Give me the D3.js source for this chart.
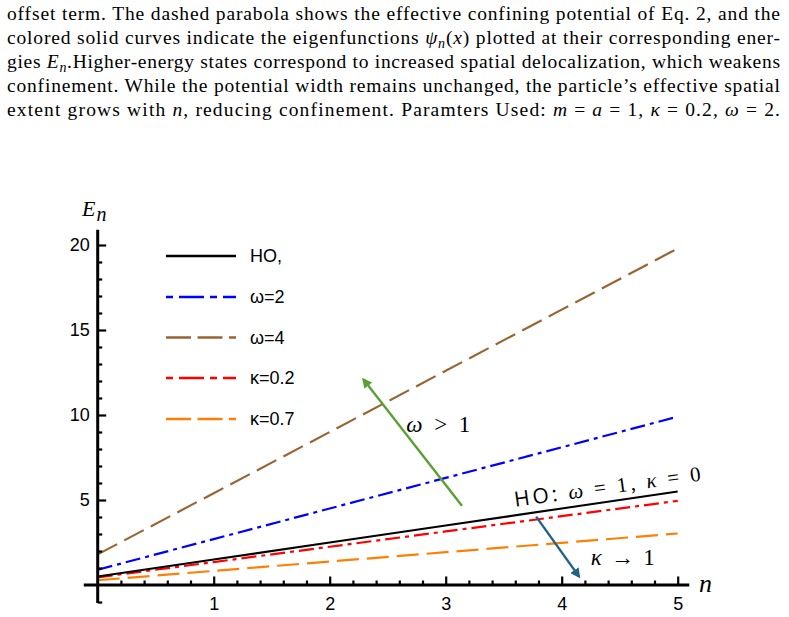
<!DOCTYPE html>
<html>
<head>
<meta charset="utf-8">
<script src="https://cdn.jsdelivr.net/npm/d3@7"></script>
<style>
  body { margin: 0; background: #fff; }
  svg { display: block; }
  .serif { font-family: 'Liberation Serif', 'Times New Roman', Tinos, serif; }
  .sans { font-family: 'Liberation Sans', Arial, Arimo, sans-serif; }
  .osans { font-family: 'Open Sans', 'Noto Sans', sans-serif; }
</style>
</head>
<body>
<div id="chart"></div>
<script>
// values, one per n
const nValues = [0, 1, 2, 3, 4, 5];
const hoValues = [0.5, 1.5, 2.5, 3.5, 4.5, 5.5];
const omega2Values = [0.9, 2.7, 4.5, 6.3, 8.1, 9.9];
const omega4Values = [1.8, 5.4, 9.0, 12.6, 16.2, 19.8];
const kappa02Values = [0.45, 1.35, 2.25, 3.15, 4.05, 4.95];
const kappa07Values = [0.28, 0.83, 1.38, 1.93, 2.48, 3.03];

const seriesNames = ["HO,", "ω=2", "ω=4", "κ=0.2", "κ=0.7"];
const xTickLabels = [1, 2, 3, 4, 5];
const yTickLabels = [5, 10, 15, 20];

// caption lines above the plot
const captionLines = [
    [["offset term. The dashed parabola shows the effective confining potential of Eq. 2, and the"]],
    [["colored solid curves indicate the eigenfunctions "], ["ψ", "i"], ["n", "sub"], ["(", "u"], ["x", "i"], [") plotted at their corresponding ener-"]],
    [["gies "], ["E", "i"], ["n", "sub"], [".Higher-energy states correspond to increased spatial delocalization, which weakens"]],
    [["confinement. While the potential width remains unchanged, the particle\u2019s effective spatial"]],
    [["extent grows with "], ["n", "i"], [", reducing confinement. Paramters Used: "], ["m", "i"], [" = "], ["a", "i"], [" = 1, "], ["κ", "i"], [" = 0.2, "], ["ω", "i"], [" = 2."]]
];

const width = 789, height = 617;
const svg = d3.select('#chart').append('svg')
    .attr('width', width)
    .attr('height', height);

// caption
captionLines.forEach((parts, i) => {
    const t = svg.append('text')
        .attr('class', 'serif')
        .attr('x', 7)
        .attr('y', 19.5 + i * 24)
        .attr('font-size', 19.5)
        .attr('fill', '#000')
        .attr('textLength', 773)
        .attr('lengthAdjust', 'spacing');
    let shifted = false;
    parts.forEach(([str, kind]) => {
        const sp = t.append('tspan').text(str);
        if (kind === 'i') sp.attr('font-style', 'italic');
        if (kind === 'sub') {
            sp.attr('font-style', 'italic').attr('font-size', 14).attr('dy', 4);
            shifted = true;
        } else if (shifted) {
            sp.attr('dy', -4);
            shifted = false;
        }
    });
});

// scales
const x = d3.scaleLinear().domain([0, 5]).range([97.7, 677.7]);
const y = d3.scaleLinear().domain([0, 20]).range([585, 245]);

const seriesData = [
    { name: seriesNames[0], values: hoValues, color: '#000000', dash: null, legendDash: null },
    { name: seriesNames[1], values: omega2Values, color: '#0000ff', dash: '15,5,4,5', legendDash: '7,6,25,6' },
    { name: seriesNames[2], values: omega4Values, color: '#996633', dash: '22,8', legendDash: '25,6.5' },
    { name: seriesNames[3], values: kappa02Values, color: '#ff0000', dash: '15,5,4,5', legendDash: '7,6,25,6' },
    { name: seriesNames[4], values: kappa07Values, color: '#ff8000', dash: '22,8', legendDash: '25,6.5' }
];

const line = d3.line()
    .x(d => x(d.n))
    .y(d => y(d.e));

// draw the lines (HO last so it sits on top)
const drawOrder = [2, 1, 4, 3, 0];
drawOrder.forEach(k => {
    const s = seriesData[k];
    svg.append('path')
        .datum(nValues.map((n, i) => ({ n: n, e: s.values[i] })))
        .attr('d', line)
        .attr('fill', 'none')
        .attr('stroke', s.color)
        .attr('stroke-width', 2.2)
        .attr('stroke-dasharray', s.dash);
});

// axes
const axisColor = '#000';

// x axis line
svg.append('line')
    .attr('x1', x(-0.12)).attr('x2', x(5.1))
    .attr('y1', y(0)).attr('y2', y(0))
    .attr('stroke', axisColor).attr('stroke-width', 3);

// y axis line
svg.append('line')
    .attr('x1', x(0)).attr('x2', x(0))
    .attr('y1', y(-1.06)).attr('y2', y(20.9))
    .attr('stroke', axisColor).attr('stroke-width', 3);

// x minor ticks
const xMinor = d3.range(0.2, 5.01, 0.2).filter(v => Math.abs(v - Math.round(v)) > 0.01);
svg.append('g')
    .attr('transform', `translate(0,${y(0)})`)
    .call(d3.axisBottom(x).tickValues(xMinor).tickSizeInner(-4.5).tickSizeOuter(0).tickFormat(''))
    .call(g => g.select('.domain').remove())
    .call(g => g.selectAll('line').attr('stroke-width', 2.2));

// x major ticks + labels
svg.append('g')
    .attr('transform', `translate(0,${y(0)})`)
    .call(d3.axisBottom(x).tickValues(xTickLabels).tickFormat(d3.format('d'))
        .tickSizeInner(-8.5).tickSizeOuter(0).tickPadding(12))
    .call(g => g.select('.domain').remove())
    .call(g => g.selectAll('line').attr('stroke-width', 2.2))
    .call(g => g.selectAll('text')
        .attr('class', 'sans')
        .attr('font-size', 18)
        .attr('fill', '#000'));

// y minor ticks
const yMinor = d3.range(-1, 21, 1).filter(v => v % 5 !== 0);
svg.append('g')
    .attr('transform', `translate(${x(0)},0)`)
    .call(d3.axisLeft(y).tickValues(yMinor).tickSizeInner(-4.5).tickSizeOuter(0).tickFormat(''))
    .call(g => g.select('.domain').remove())
    .call(g => g.selectAll('line').attr('stroke-width', 2.2));

// y major ticks + labels
svg.append('g')
    .attr('transform', `translate(${x(0)},0)`)
    .call(d3.axisLeft(y).tickValues(yTickLabels).tickFormat(d3.format('d'))
        .tickSizeInner(-8.5).tickSizeOuter(0).tickPadding(8))
    .call(g => g.select('.domain').remove())
    .call(g => g.selectAll('line').attr('stroke-width', 2.2))
    .call(g => g.selectAll('text')
        .attr('class', 'sans')
        .attr('font-size', 18)
        .attr('fill', '#000'));

// axis labels
const eLabel = svg.append('text')
    .attr('class', 'serif')
    .attr('x', 82).attr('y', 216)
    .attr('font-style', 'italic')
    .attr('font-size', 22);
eLabel.append('tspan').text('E');
eLabel.append('tspan').text('n').attr('font-size', 20).attr('dy', 5).attr('dx', 1);

svg.append('text')
    .attr('class', 'serif')
    .attr('x', 699).attr('y', 592)
    .attr('font-style', 'italic')
    .attr('font-size', 26)
    .text('n');

// legend
const legendY = [256, 297, 337.5, 378, 419];
const legend = svg.append('g');
seriesData.forEach((s, i) => {
    legend.append('line')
        .attr('x1', 166).attr('x2', 236)
        .attr('y1', legendY[i]).attr('y2', legendY[i])
        .attr('stroke', s.color)
        .attr('stroke-width', 2.7)
        .attr('stroke-dasharray', s.legendDash);
    legend.append('text')
        .attr('class', 'sans')
        .attr('x', 250).attr('y', legendY[i])
        .attr('dy', '0.36em')
        .attr('font-size', 18)
        .attr('fill', '#000')
        .text(s.name);
});

// annotation arrows (data coordinates)
const arrows = [
    { from: [3.14, 4.66], to: [2.29, 12.1], color: '#5ca035', id: 'headGreen' },
    { from: [3.78, 4.02], to: [4.15, 0.49], color: '#206383', id: 'headBlue' }
];
const defs = svg.append('defs');
arrows.forEach(a => {
    defs.append('marker')
        .attr('id', a.id)
        .attr('viewBox', '0 0 10 10')
        .attr('refX', 8).attr('refY', 5)
        .attr('markerWidth', 4.2).attr('markerHeight', 4.2)
        .attr('markerUnits', 'strokeWidth')
        .attr('orient', 'auto')
        .append('path')
        .attr('d', 'M0,0 L10,5 L0,10 Z')
        .attr('fill', a.color);
    svg.append('line')
        .attr('x1', x(a.from[0])).attr('y1', y(a.from[1]))
        .attr('x2', x(a.to[0])).attr('y2', y(a.to[1]))
        .attr('stroke', a.color)
        .attr('stroke-width', 2.4)
        .attr('marker-end', `url(#${a.id})`);
});

// annotation texts
const notes = [
    { at: [2.66, 9.0], parts: [['ω', 'i'], [' > 1']], len: 64 },
    { at: [4.25, 1.18], parts: [['κ', 'i'], [' → 1']], len: 64 }
];
notes.forEach(nt => {
    const t = svg.append('text')
        .attr('class', 'serif')
        .attr('x', x(nt.at[0])).attr('y', y(nt.at[1]))
        .attr('font-size', 23)
        .attr('fill', '#000')
        .attr('textLength', nt.len)
        .attr('lengthAdjust', 'spacing');
    nt.parts.forEach(([str, kind]) => {
        const sp = t.append('tspan').text(str);
        if (kind === 'i') sp.attr('font-style', 'italic');
    });
});

// rotated HO label along the black line
const hoAt = [3.6, 4.6];
const hoText = svg.append('text')
    .attr('transform', `translate(${x(hoAt[0])},${y(hoAt[1])}) rotate(-8)`)
    .attr('font-size', 21)
    .attr('fill', '#000')
    .attr('textLength', 188)
    .attr('lengthAdjust', 'spacing');
hoText.append('tspan').attr('class', 'osans').text('HO: ');
hoText.append('tspan').attr('class', 'serif').attr('font-style', 'italic').text('ω');
hoText.append('tspan').attr('class', 'serif').text(' = 1, ');
hoText.append('tspan').attr('class', 'serif').attr('font-style', 'italic').text('κ');
hoText.append('tspan').attr('class', 'serif').text(' = 0');
</script>
</body>
</html>
